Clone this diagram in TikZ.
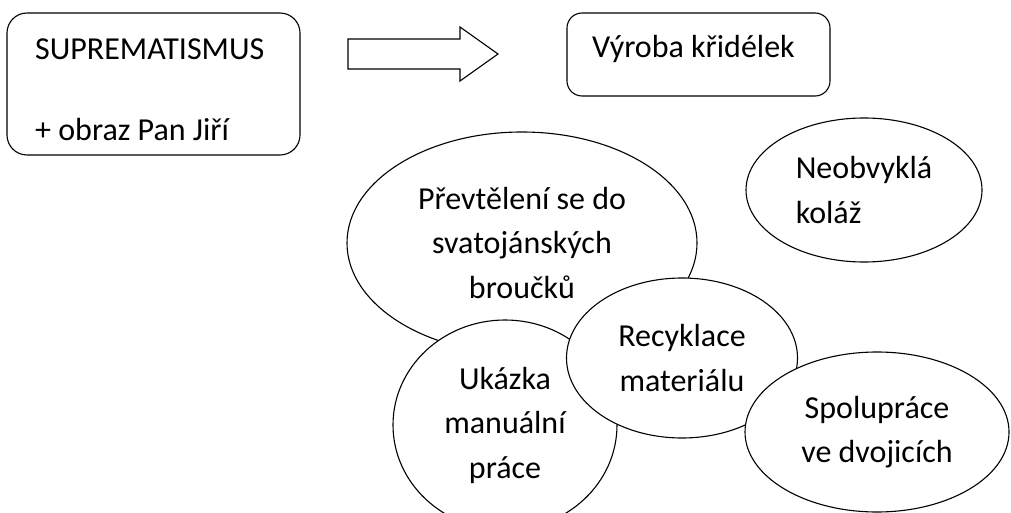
\documentclass[tikz,border=0pt]{standalone}
\usepackage{fontspec}
\setmainfont{Carlito}
\usetikzlibrary{shapes.geometric}
\begin{document}
\begin{tikzpicture}[x=1pt,y=-1pt,
  every node/.style={font=\fontsize{32}{44.5}\selectfont},
  box/.style={draw, line width=1.1pt, inner sep=0pt},
  lbl/.style={inner sep=0pt, anchor=base west},
  bubble/.style={draw, fill=white, ellipse, line width=1.1pt, inner sep=0pt, align=center}]
\useasboundingbox (0,0) rectangle (1011,513);
% boxes
\node[box, rounded corners=20pt, minimum width=293pt, minimum height=142pt] (supr) at (153.5,84) {};
\node[lbl] (t1) at (35,60) {SUPREMATISMUS};
\node[lbl] (t2) at (35,141) {+ obraz Pan Jiří};
\node[box, rounded corners=15pt, minimum width=263pt, minimum height=83pt] (vyroba) at (698.5,54.5) {};
\node[lbl] (t3) at (592,58) {Výroba křidélek};
% block arrow
\draw[line width=1.1pt, line join=miter] (348,39) -- (460,39) -- (460,27) -- (498,54) -- (460,81) -- (460,69) -- (348,69) -- cycle;
% ellipses
\node[bubble, minimum width=236pt, minimum height=144pt, align=left] (neob) at (864,190) {Neobvyklá\\koláž};
\node[bubble, minimum width=350pt, minimum height=222pt] (prev) at (522,243) {Převtělení se do\\svatojánských\\broučků};
\node[bubble, minimum width=224pt, minimum height=210pt] (ukaz) at (505,425) {Ukázka\\manuální\\práce};
\node[bubble, minimum width=231pt, minimum height=160pt] (recy) at (682,358) {Recyklace\\materiálu};
\node[bubble, minimum width=264pt, minimum height=160pt] (spol) at (877,432) {Spolupráce\\ve dvojicích};
\end{tikzpicture}
\end{document}
